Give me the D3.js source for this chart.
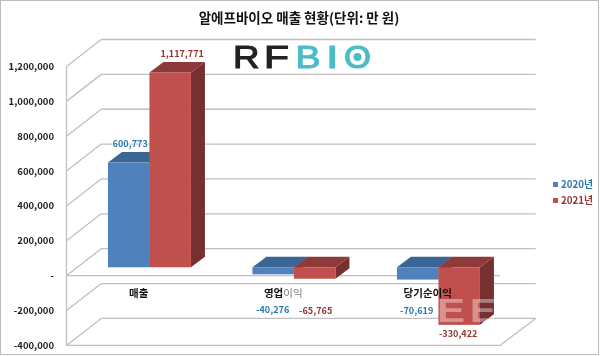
<!DOCTYPE html>
<html><head><meta charset="utf-8">
<script src="https://cdn.jsdelivr.net/npm/d3@7/dist/d3.min.js"></script>
<style>
html,body{margin:0;padding:0;background:#fff}
svg{display:block;filter:blur(0.35px)}
text{font-family:"Noto Sans CJK KR","Noto Sans",sans-serif}
</style></head><body>
<script>
const categories = ["매출", "영업이익", "당기순이익"];
const seriesNames = ["2020년", "2021년"];
const values2020 = [600773, -40276, -70619];
const values2021 = [1117771, -65765, -330422];
const tickValues = [1200000, 1000000, 800000, 600000, 400000, 200000, 0, -200000, -400000];
const titleText = "알에프바이오 매출 현황(단위: 만 원)";

const W = 600, H = 356;
const svg = d3.select("body").append("svg").attr("width", W).attr("height", H);
svg.append("rect").attr("x",0.5).attr("y",0.5).attr("width",598).attr("height",354)
  .attr("fill","#fff").attr("stroke","#bdbdbd").attr("stroke-width",1);

const y = d3.scaleLinear().domain([-400000,1200000]).range([345.4,66.5]);
const x = d3.scaleBand().domain(categories).range([66.5,500]).paddingInner(0.4256).paddingOuter(0.2128);
const xs = d3.scaleBand().domain(seriesNames).range([0,x.bandwidth()]);
const fmt = v => d3.format(",")(v).replace("\u2212","-");

svg.append("text").attr("x",299).attr("y",23).attr("text-anchor","middle")
  .attr("font-size",13.5).attr("font-weight",700).attr("fill","#111").text(titleText);

// 3D walls
const depthX = 34.7, depthY = 27;
const grid = svg.append("g").attr("stroke","#c0c0c0").attr("stroke-width",1.3).attr("fill","none");
tickValues.forEach(t=>{
  const yy = y(t);
  grid.append("line").attr("x1",66.5).attr("y1",yy).attr("x2",66.5+depthX).attr("y2",yy-depthY);
  grid.append("line").attr("x1",66.5+depthX).attr("y1",yy-depthY).attr("x2",500+depthX+1).attr("y2",yy-depthY);
});
grid.append("line").attr("x1",66.5).attr("y1",y(1200000)).attr("x2",66.5).attr("y2",y(-400000));
grid.append("line").attr("x1",66.5).attr("y1",y(0)).attr("x2",500).attr("y2",y(0));
grid.append("line").attr("x1",66.5).attr("y1",y(-400000)).attr("x2",500).attr("y2",y(-400000));
grid.append("line").attr("x1",500).attr("y1",y(-400000)).attr("x2",500+depthX+1).attr("y2",y(-400000)-depthY);

// tick labels
svg.append("g").selectAll("text").data(tickValues).join("text")
  .attr("x",54).attr("y",d=>y(d)+3.5).attr("text-anchor","end")
  .attr("font-size",9.5).attr("font-weight",700).attr("fill","#222")
  .text(d=>d===0?"-":fmt(d));

// bars
const barShift = 10.7, baseLift = 8.4, bx = 14, by = 10.5;
const palette = [
  {front:"#4f81bd",top:"#3b6595",side:"#2f5580",label:"#2b78ad"},
  {front:"#c0504d",top:"#8d3a38",side:"#773030",label:"#943634"}
];
const seriesData = [values2020, values2021];
const bars = svg.append("g");
seriesData.forEach((vals,s)=>{
  const col = palette[s];
  categories.forEach((c,i)=>{
    const v = vals[i];
    const x0 = x(c)+xs(seriesNames[s])+barShift, x1 = x0+xs.bandwidth();
    const yt = y(Math.max(v,0))-baseLift, yb = y(Math.min(v,0))-baseLift;
    const g = bars.append("g");
    g.append("path").attr("fill",col.side)
      .attr("d",d3.line()([[x1,yt],[x1+bx,yt-by],[x1+bx,yb-by],[x1,yb]])+"Z");
    g.append("path").attr("fill",col.top)
      .attr("d",d3.line()([[x0,yt],[x0+bx,yt-by],[x1+bx,yt-by],[x1,yt]])+"Z");
    g.append("rect").attr("x",x0).attr("y",yt).attr("width",x1-x0).attr("height",yb-yt).attr("fill",col.front);
  });
});

// category labels
const catLabels = svg.append("g").selectAll("text").data(categories).join("text")
  .attr("x",d=>x(d)+x.bandwidth()/2).attr("y",296.5).attr("text-anchor","middle")
  .attr("font-size",10.5).attr("font-weight",700).attr("fill","#111");
catLabels.each(function(d){
  const t = d3.select(this);
  if(d==="영업이익"){
    t.append("tspan").text(d.slice(0,2));
    t.append("tspan").attr("fill","#777").attr("font-weight",400).text(d.slice(2));
  } else t.text(d);
});

// value labels
const labelOffsets = [
  [[1.5,-16],[12,-15]],
  [[-0.5,39],[1,35.5]],
  [[-1,34],[-1,12.5]]
];
seriesData.forEach((vals,s)=>{
  categories.forEach((c,i)=>{
    const v = vals[i];
    const cx = x(c)+xs(seriesNames[s])+barShift+xs.bandwidth()/2;
    const edge = y(v)-baseLift;
    svg.append("text").attr("x",cx+labelOffsets[i][s][0]).attr("y",edge+labelOffsets[i][s][1])
      .attr("text-anchor","middle").attr("font-size",9.1).attr("font-weight",700)
      .attr("fill",palette[s].label).attr("stroke","#fff").attr("stroke-width",2)
      .attr("stroke-opacity",0.8).attr("paint-order","stroke").text(fmt(v));
  });
});

// legend
seriesNames.forEach((n,s)=>{
  const ly = 184.5+s*16;
  svg.append("rect").attr("x",553).attr("y",ly-2.5).attr("width",5).attr("height",5).attr("fill",palette[s].front);
  svg.append("text").attr("x",561).attr("y",ly+3.5).attr("font-size",9.8).attr("font-weight",700)
    .attr("fill",palette[s].label).text(n);
});

// logo
const logo = svg.append("g").attr("font-size",32).attr("stroke-width",1.1);
[["R",233,26.5,"#222"],["F",264,25,"#222"],["B",295.5,25,"#4bbcc8"],["I",326,12.5,"#4bbcc8"],["O",344,27,"#4bbcc8"]]
 .forEach(([ch,lx,lw,col])=>{
  logo.append("text").attr("x",lx).attr("y",68).attr("textLength",lw).attr("lengthAdjust","spacingAndGlyphs")
    .attr("style",'font-family:"Liberation Sans"')
    .attr("fill",col).attr("stroke",col).text(ch);
 });
svg.append("circle").attr("cx",357.5).attr("cy",57).attr("r",4).attr("fill","#4bbcc8");

// watermark
[[437,28],[470,26]].forEach(([wx,wl])=>{
  svg.append("text").attr("x",wx).attr("y",322).attr("font-size",34).attr("font-weight",700)
    .attr("style",'font-family:"Liberation Sans"')
    .attr("fill","#fff").attr("fill-opacity",0.38).attr("textLength",wl).attr("lengthAdjust","spacingAndGlyphs").text("E");
});
</script>
</body></html>
